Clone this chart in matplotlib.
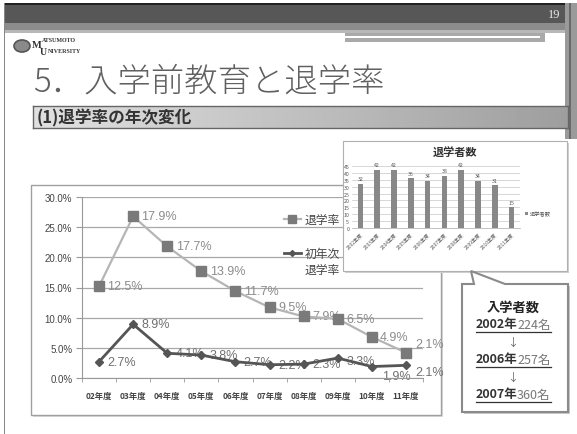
import matplotlib
matplotlib.use("Agg")
import matplotlib.pyplot as plt
from matplotlib.patches import Rectangle, Polygon, Circle
from matplotlib.lines import Line2D
import numpy as np

plt.rcParams['font.family'] = ['Noto Sans CJK JP', 'DejaVu Sans']

# data
years = ['02年度', '03年度', '04年度', '05年度', '06年度',
         '07年度', '08年度', '09年度', '10年度', '11年度']
dropout_rate = [12.5, 17.9, 17.7, 13.9, 11.7, 9.5, 7.9, 6.5, 4.9, 2.1]
first_year_rate = [2.7, 8.9, 4.1, 3.8, 2.7, 2.2, 2.3, 3.3, 1.9, 2.1]

inset_years = ['2002年度', '2003年度', '2004年度', '2005年度', '2006年度',
               '2007年度', '2008年度', '2009年度', '2010年度', '2011年度']
dropouts = [32, 42, 42, 36, 34, 38, 42, 34, 31, 15]

enroll_years = ['2002年', '2006年', '2007年']
enroll_counts = ['224名', '257名', '360名']

W, H = 577, 435
fig = plt.figure(figsize=(W / 100, H / 100), dpi=100)


def fx(x):
    return x / W


def fy(y):
    return 1 - y / H


def rect(x0, y0, x1, y1, **kw):
    r = Rectangle((fx(x0), fy(y1)), (x1 - x0) / W, (y1 - y0) / H,
                  transform=fig.transFigure, **kw)
    fig.add_artist(r)
    return r


# ---- slide header ----
rect(0, 0, W, H, facecolor='white', edgecolor='none', zorder=-5)
rect(5, 5, 568, 24, facecolor='#575757', edgecolor='none', zorder=-4)
rect(5, 4, 568, 6, facecolor='#222222', edgecolor='none', zorder=-4)
rect(5, 24, 568, 31, facecolor='#8c8c8c', edgecolor='none', zorder=-4)
rect(5, 31, 568, 34, facecolor='#b8b8b8', edgecolor='none', zorder=-4)
rect(345, 34, 545, 43, facecolor='#a9a9a9', edgecolor='none', zorder=-4)
rect(345, 37, 540, 38.5, facecolor='white', edgecolor='none', zorder=-3)
rect(565, 4, 577, 140, facecolor='#9a9a9a', edgecolor='none', zorder=-4)
rect(569, 4, 571, 140, facecolor='#6a6a6a', edgecolor='none', zorder=-3)
rect(3.5, 4, 5, H, facecolor='#888888', edgecolor='none', zorder=-4)
fig.text(fx(554), fy(15), '19', fontsize=9, color='#e6e6e6',
         family=['Liberation Serif', 'DejaVu Serif'], ha='center', va='center')

# logo
serif = ['Liberation Serif', 'DejaVu Serif']
fig.add_artist(Circle((fx(22), fy(47)), 8 / W, transform=fig.transFigure,
                      facecolor='#8a8a8a', edgecolor='#555555', lw=1.2))
fig.text(fx(31.5), fy(46), 'M', fontsize=7.5, fontweight='bold',
         color='#333333', family=serif, va='center')
fig.text(fx(41.5), fy(41), 'ATSUMOTO', fontsize=4.3, fontweight='bold',
         color='#333333', va='center', family=serif)
fig.text(fx(40), fy(52.5), 'U', fontsize=7, fontweight='bold',
         color='#333333', family=serif, va='center')
fig.text(fx(47.5), fy(51.5), 'NIVERSITY', fontsize=4.3, fontweight='bold',
         color='#333333', va='center', family=serif)

fig.text(fx(33), fy(82), '5．入学前教育と退学率', fontsize=24, color='#606060',
         va='center', ha='left', fontweight='light')

# subtitle bar with gradient
sub = fig.add_axes([fx(33), fy(129), 535 / W, 22 / H], zorder=-2)
grad = np.linspace(0.88, 0.62, 256).reshape(1, -1)
sub.imshow(grad, aspect='auto', cmap='gray', vmin=0, vmax=1,
           extent=[0, 1, 0, 1])
sub.set_xticks([])
sub.set_yticks([])
for s in sub.spines.values():
    s.set_color('#666666')
    s.set_linewidth(1)
sub.text(0.006, 0.5, '(1)退学率の年次変化', transform=sub.transAxes,
         fontsize=12, fontweight='bold', color='#333333', va='center')

# ---- main chart ----
rect(33, 188, 443, 418, facecolor='#dddddd', edgecolor='none', zorder=-2)
rect(31, 186, 441, 416, facecolor='white', edgecolor='#a0a0a0', lw=1,
     zorder=-1)

ax = fig.add_axes([fx(82), fy(379), 341 / W, 181 / H])
ax.patch.set_alpha(0)
x = np.arange(len(years))
total = np.array(dropout_rate) + np.array(first_year_rate)
first = np.array(first_year_rate)

ax.plot(x, total / 100, color='#b5b5b5', lw=1.6, marker='s', ms=7.5,
        mfc='#7a7a7a', mec='#7a7a7a', label='退学率', zorder=3)
ax.plot(x, first / 100, color='#555555', lw=2, marker='D', ms=4,
        mfc='#555555', mec='#555555', label='初年次', zorder=3)

lab_font = ['Liberation Sans Narrow', 'Liberation Sans', 'DejaVu Sans']
top_off = {9: (6.5, 6)}
bot_off = {7: (6.5, -2), 8: (7, -7), 9: (6.5, -5)}
for i in range(len(years)):
    ax.annotate(f'{dropout_rate[i]:.1f}%', (x[i], total[i] / 100),
                xytext=top_off.get(i, (6, 0)), textcoords='offset points',
                fontsize=9, color='#8c8c8c', va='center', ha='left',
                family=lab_font, zorder=2)
    ax.annotate(f'{first_year_rate[i]:.1f}%', (x[i], first[i] / 100),
                xytext=bot_off.get(i, (6, 0)), textcoords='offset points',
                fontsize=9, color='#707070', va='center', ha='left',
                family=lab_font, zorder=2)

ax.set_xlim(-0.5, len(years) - 0.5)
ax.set_ylim(0, 0.30)
yt = np.arange(0, 0.301, 0.05)
ax.set_yticks(yt)
ax.set_yticklabels([f'{v * 100:.1f}%' for v in yt], fontsize=7,
                   color='#444444', family=['Liberation Sans', 'DejaVu Sans'])
ax.set_xticks(x)
ax.set_xticklabels(years, fontsize=6, color='#444444', fontweight='bold')
ax.set_xticks(np.arange(-0.5, len(years), 1), minor=True)
ax.tick_params(axis='x', which='major', length=0, pad=9)
ax.tick_params(axis='x', which='minor', length=3, color='#999999')
ax.tick_params(axis='y', length=4, color='#999999', pad=3)
ax.grid(axis='y', color='#a8a8a8', lw=0.9)
ax.set_axisbelow(True)
for k in ['top', 'right']:
    ax.spines[k].set_visible(False)
for k in ['left', 'bottom']:
    ax.spines[k].set_color('#999999')

leg = ax.legend(loc='upper left', bbox_to_anchor=(0.56, 0.97),
                frameon=False, fontsize=8.5, handlelength=1.5,
                handletextpad=0.3, labelspacing=1.75, markerscale=0.75,
                labelcolor='#444444')
# second line of the second legend label, set just below it
fig.canvas.draw()
bb = leg.get_texts()[1].get_window_extent()
fig.text(bb.x0 / W, (bb.y0 - 3) / H, '退学率', fontsize=8.5, color='#444444',
         ha='left', va='top')

# ---- inset bar chart ----
rect(345, 144, 569, 274, facecolor='#d0d0d0', edgecolor='none', zorder=2)
rect(343, 142, 567, 272, facecolor='white', edgecolor='#b0b0b0', lw=0.8,
     zorder=2.1)
fig.text(fx(455), fy(152), '退学者数', fontsize=8, fontweight='bold',
         color='#333333', ha='center', va='center', zorder=4)

ax2 = fig.add_axes([fx(352), fy(229), 168 / W, 62 / H], zorder=3)
ax2.patch.set_alpha(0)
xb = np.arange(len(inset_years))
bars = ax2.bar(xb, dropouts, width=0.33, color='#888888', label='退学者数',
               zorder=2)
for b, v in zip(bars, dropouts):
    ax2.text(b.get_x() + b.get_width() / 2, v + 2, str(v), fontsize=3.8,
             color='#555555', ha='center', va='bottom')
ax2.set_xlim(-0.5, len(inset_years) - 0.5)
ax2.set_ylim(0, 45)
ax2.set_yticks(range(0, 46, 5))
ax2.tick_params(axis='y', labelsize=3.8, length=0, pad=2, labelcolor='#555555')
ax2.set_xticks(xb)
ax2.set_xticklabels(inset_years, rotation=45, ha='right', fontsize=3.5,
                    color='#555555', rotation_mode='anchor')
ax2.tick_params(axis='x', length=0, pad=2)
ax2.grid(axis='y', color='#c8c8c8', lw=0.5)
ax2.set_axisbelow(True)
for k in ['top', 'right', 'left']:
    ax2.spines[k].set_visible(False)
ax2.spines['bottom'].set_color('#aaaaaa')
ax2.spines['bottom'].set_linewidth(0.5)
ax2.legend(loc='center left', bbox_to_anchor=(1.0, 0.23), frameon=False,
           fontsize=3.8, handlelength=0.6, handleheight=0.6,
           handletextpad=0.3, labelcolor='#555555')

# ---- callout ----
shape = [(462, 285), (474, 285), (471, 272), (505, 285), (568, 285),
         (568, 413), (462, 413)]
shadow = [(fx(px + 2), fy(py + 2)) for px, py in shape]
fig.add_artist(Polygon(shadow, closed=True, transform=fig.transFigure,
                       facecolor='#c8c8c8', edgecolor='none', zorder=4))
fig.add_artist(Polygon([(fx(px), fy(py)) for px, py in shape], closed=True,
                       transform=fig.transFigure, facecolor='white',
                       edgecolor='#8a8a8a', lw=1.5, zorder=4.1))
fig.text(fx(513), fy(308), '入学者数', fontsize=9.5, fontweight='bold',
         color='#222222', ha='center', va='center', zorder=5)
rows_y = [325, 360, 395]
for i, (yr, cnt) in enumerate(zip(enroll_years, enroll_counts)):
    fig.text(fx(517), fy(rows_y[i]), yr, fontsize=9, fontweight='bold',
             color='#333333', ha='right', va='center', zorder=5)
    fig.text(fx(517), fy(rows_y[i]), cnt, fontsize=9, color='#777777',
             ha='left', va='center', zorder=5)
    fig.add_artist(Line2D([fx(476), fx(551)],
                          [fy(rows_y[i] + 8), fy(rows_y[i] + 8)],
                          transform=fig.transFigure, color='#333333', lw=0.9,
                          zorder=5))
    if i < len(enroll_years) - 1:
        fig.text(fx(513), fy(rows_y[i] + 17.5), '↓', fontsize=8,
                 color='#666666', ha='center', va='center', zorder=5)

fig.savefig('out.png', dpi=100)
